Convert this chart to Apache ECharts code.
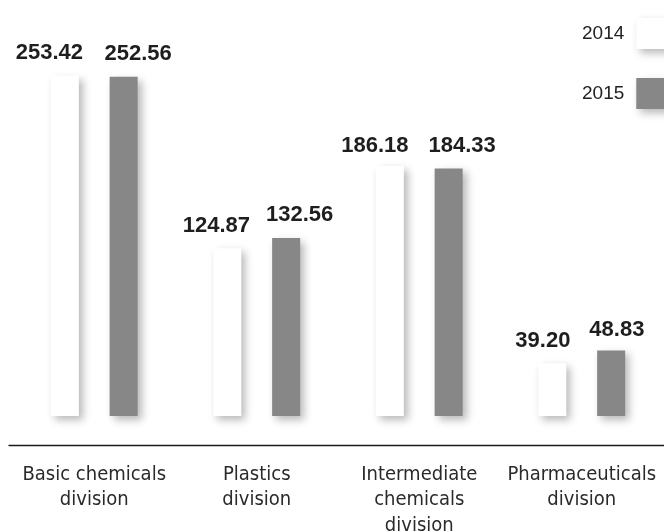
<!DOCTYPE html>
<html>
<head>
<meta charset="utf-8">
<script src="https://cdn.jsdelivr.net/npm/echarts@6/dist/echarts.min.js"></script>
<style>
  html, body { margin: 0; padding: 0; background: #ffffff; }
  #chart { width: 664px; height: 531px; }
</style>
</head>
<body>
<div id="chart"></div>
<script>
// Sales by division, 2014 vs 2015
const categories = [
  'Basic chemicals\ndivision',
  'Plastics\ndivision',
  'Intermediate\nchemicals\ndivision',
  'Pharmaceuticals\ndivision'
];
const seriesNames = ['2014', '2015'];
const values2014 = [253.42, 124.87, 186.18, 39.20];
const values2015 = [252.56, 132.56, 184.33, 48.83];

// per-label nudges [dx, dy] so the paired value labels sit apart
const labelNudge2014 = [[-15.5, 0], [-11, 0], [-15, 3], [-9.5, 0]];
const labelNudge2015 = [[14.5, 0], [13.5, 0], [13.5, 0], [5.7, 2.5]];

const shadow = {
  shadowBlur: 8,
  shadowOffsetX: 4,
  shadowOffsetY: 4,
  shadowColor: 'rgba(0,0,0,0.28)'
};

function withLabels(values, nudges) {
  return values.map((v, i) => ({ value: v, label: { offset: nudges[i] } }));
}

const valueLabel = {
  show: true,
  position: 'top',
  distance: 11.5,
  fontFamily: "'Liberation Sans', Arial, sans-serif",
  fontWeight: 'bold',
  fontSize: 22,
  color: '#1e1e1e',
  formatter: p => p.value.toFixed(2)
};

const labelFont = "'DejaVu Sans Condensed', 'Noto Sans', sans-serif";

const chart = echarts.init(document.getElementById('chart'), null, { renderer: 'canvas' });

chart.setOption({
  animation: false,
  backgroundColor: '#ffffff',
  legend: {
    data: seriesNames,
    orient: 'vertical',
    left: 577,
    top: 13,
    align: 'right',
    icon: 'rect',
    itemWidth: 40,
    itemHeight: 31,
    itemGap: 29,
    selectedMode: false,
    itemStyle: Object.assign({ borderWidth: 0 }, shadow),
    textStyle: {
      fontFamily: "'Liberation Sans', Arial, sans-serif",
      fontSize: 19,
      color: '#222',
      padding: [0, 7, 0, 0]
    }
  },
  grid: [
    { left: 13, right: 1, top: 13, bottom: 115, containLabel: false, outerBoundsMode: 'none' },
    { left: 9, right: 0, top: 13, bottom: 115, containLabel: false, outerBoundsMode: 'none' }
  ],
  xAxis: [
    {
      type: 'category',
      gridIndex: 0,
      data: categories,
      offset: 29,
      axisLine: { show: false },
      axisTick: { show: false },
      axisLabel: {
        interval: 0,
        margin: 17,
        fontFamily: labelFont,
        fontSize: 20,
        lineHeight: 25.5,
        color: '#2a2a2a'
      }
    },
    {
      type: 'category',
      gridIndex: 1,
      data: categories,
      offset: 29,
      axisLine: { show: true, onZero: false, lineStyle: { color: '#1a1a1a', width: 1.3 } },
      axisTick: { show: false },
      axisLabel: { show: false }
    }
  ],
  yAxis: [
    { type: 'value', gridIndex: 0, min: 0, max: 300, show: false },
    { type: 'value', gridIndex: 1, min: 0, max: 300, show: false }
  ],
  series: [
    {
      name: seriesNames[0],
      type: 'bar',
      xAxisIndex: 0,
      yAxisIndex: 0,
      barWidth: 28,
      barGap: '110%',
      itemStyle: Object.assign({ color: '#ffffff' }, shadow),
      label: valueLabel,
      data: withLabels(values2014, labelNudge2014)
    },
    {
      name: seriesNames[1],
      type: 'bar',
      xAxisIndex: 0,
      yAxisIndex: 0,
      barWidth: 28,
      barGap: '110%',
      itemStyle: Object.assign({ color: '#878787' }, shadow),
      label: valueLabel,
      data: withLabels(values2015, labelNudge2015)
    }
  ]
});
</script>
</body>
</html>
